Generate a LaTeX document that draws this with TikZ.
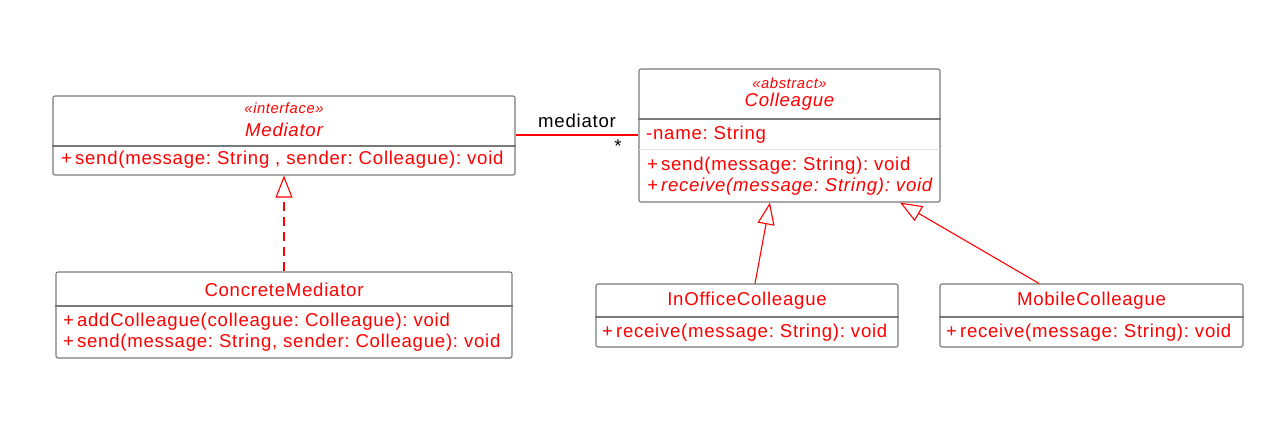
\documentclass[tikz,border=0pt]{standalone}
\usepackage{fontspec}
\setmainfont[LetterSpace=4]{Liberation Sans}
\usetikzlibrary{arrows.meta}
\definecolor{umlred}{HTML}{FF0000}
\definecolor{umlgray}{HTML}{7A7A7A}
\definecolor{faint}{HTML}{E2E2E2}
\begin{document}
\frenchspacing
\begin{tikzpicture}[x=1pt,y=-1pt,
  box/.style={draw=umlgray, line width=1.1pt, rounded corners=2pt, fill=white, inner sep=0pt},
  txt/.style={text=umlred, inner sep=0pt, font=\fontsize{18.6}{21}\selectfont},
  ttl/.style={txt, font=\fontsize{18.6}{21}\selectfont\itshape},
  ster/.style={txt, font=\fontsize{14.8}{16}\selectfont\itshape},
  lbl/.style={inner sep=0pt, text=black, font=\fontsize{18.6}{21}\selectfont},
  div/.style={draw=umlgray, line width=1.1pt},
  fdiv/.style={draw=faint, line width=1pt},
  gen/.style={draw=umlred, line width=1.1pt, -{Triangle[length=22pt,width=17pt,fill=white,line width=1.1pt]}},
  real/.style={gen, line width=1.5pt, dash pattern=on 9pt off 6pt},
  assoc/.style={draw=umlred, line width=1.3pt}
]
\useasboundingbox (0,0) rectangle (1275,440);
\fill[white] (0,0) rectangle (1275,440);

% Mediator
\node[box, minimum width=462pt, minimum height=79pt] (med) at (284,135.5) {};
\node[ster] (medst) at (284,108) {«interface»};
\node[ttl] (medname) at (284,129.5) {Mediator};
\draw[div] (med.west |- 0,146) -- (med.east |- 0,146);
\node[txt, anchor=west] (medm1) at (61,160) {+\kern3pt send(message: String , sender: Colleague): void};

% Colleague
\node[box, minimum width=301pt, minimum height=133pt] (col) at (789.5,135.5) {};
\node[ster] (colst) at (789.5,83) {«abstract»};
\node[ttl] (colname) at (789.5,102) {Colleague};
\draw[div] (col.west |- 0,119) -- (col.east |- 0,119);
\node[txt, anchor=west] (cola1) at (646,135) {-name: String};
\draw[fdiv] ([xshift=1pt]col.west |- 0,149) -- ([xshift=-1pt]col.east |- 0,149);
\node[txt, anchor=west] (colm1) at (647,166) {+\kern3pt send(message: String): void};
\node[txt, anchor=west, font=\fontsize{18.6}{21}\selectfont\itshape] (colm2) at (647,187) {+\kern3pt receive(message: String): void};

% ConcreteMediator
\node[box, minimum width=456pt, minimum height=86pt] (cm) at (284,315) {};
\node[txt] (cmname) at (284,290) {ConcreteMediator};
\draw[div] (cm.west |- 0,306) -- (cm.east |- 0,306);
\node[txt, anchor=west] (cmm1) at (63,322) {+\kern3pt addColleague(colleague: Colleague): void};
\node[txt, anchor=west] (cmm2) at (63,343) {+\kern3pt send(message: String, sender: Colleague): void};

% InOfficeColleague
\node[box, minimum width=302pt, minimum height=63pt] (ioc) at (747,315.5) {};
\node[txt] (iocname) at (747,301) {InOfficeColleague};
\draw[div] (ioc.west |- 0,317) -- (ioc.east |- 0,317);
\node[txt, anchor=west] (iocm1) at (602,333) {+\kern3pt receive(message: String): void};

% MobileColleague
\node[box, minimum width=303pt, minimum height=63pt] (mob) at (1091.5,315.5) {};
\node[txt] (mobname) at (1091.5,301) {MobileColleague};
\draw[div] (mob.west |- 0,317) -- (mob.east |- 0,317);
\node[txt, anchor=west] (mobm1) at (946,333) {+\kern3pt receive(message: String): void};

% connectors
\draw[assoc] (med.east |- 0,135) -- (col.west |- 0,135);
\node[lbl] (assoclbl) at (577,121) {mediator};
\node[lbl] (assocmult) at (618,146) {*};

\draw[real] (cm.north) -- (med.south);
\draw[gen] ([xshift=8pt]ioc.north) -- ([xshift=-19.5pt]col.south);
\draw[gen] ([xshift=-52.5pt]mob.north) -- ([xshift=110.5pt]col.south);
\end{tikzpicture}
\end{document}
